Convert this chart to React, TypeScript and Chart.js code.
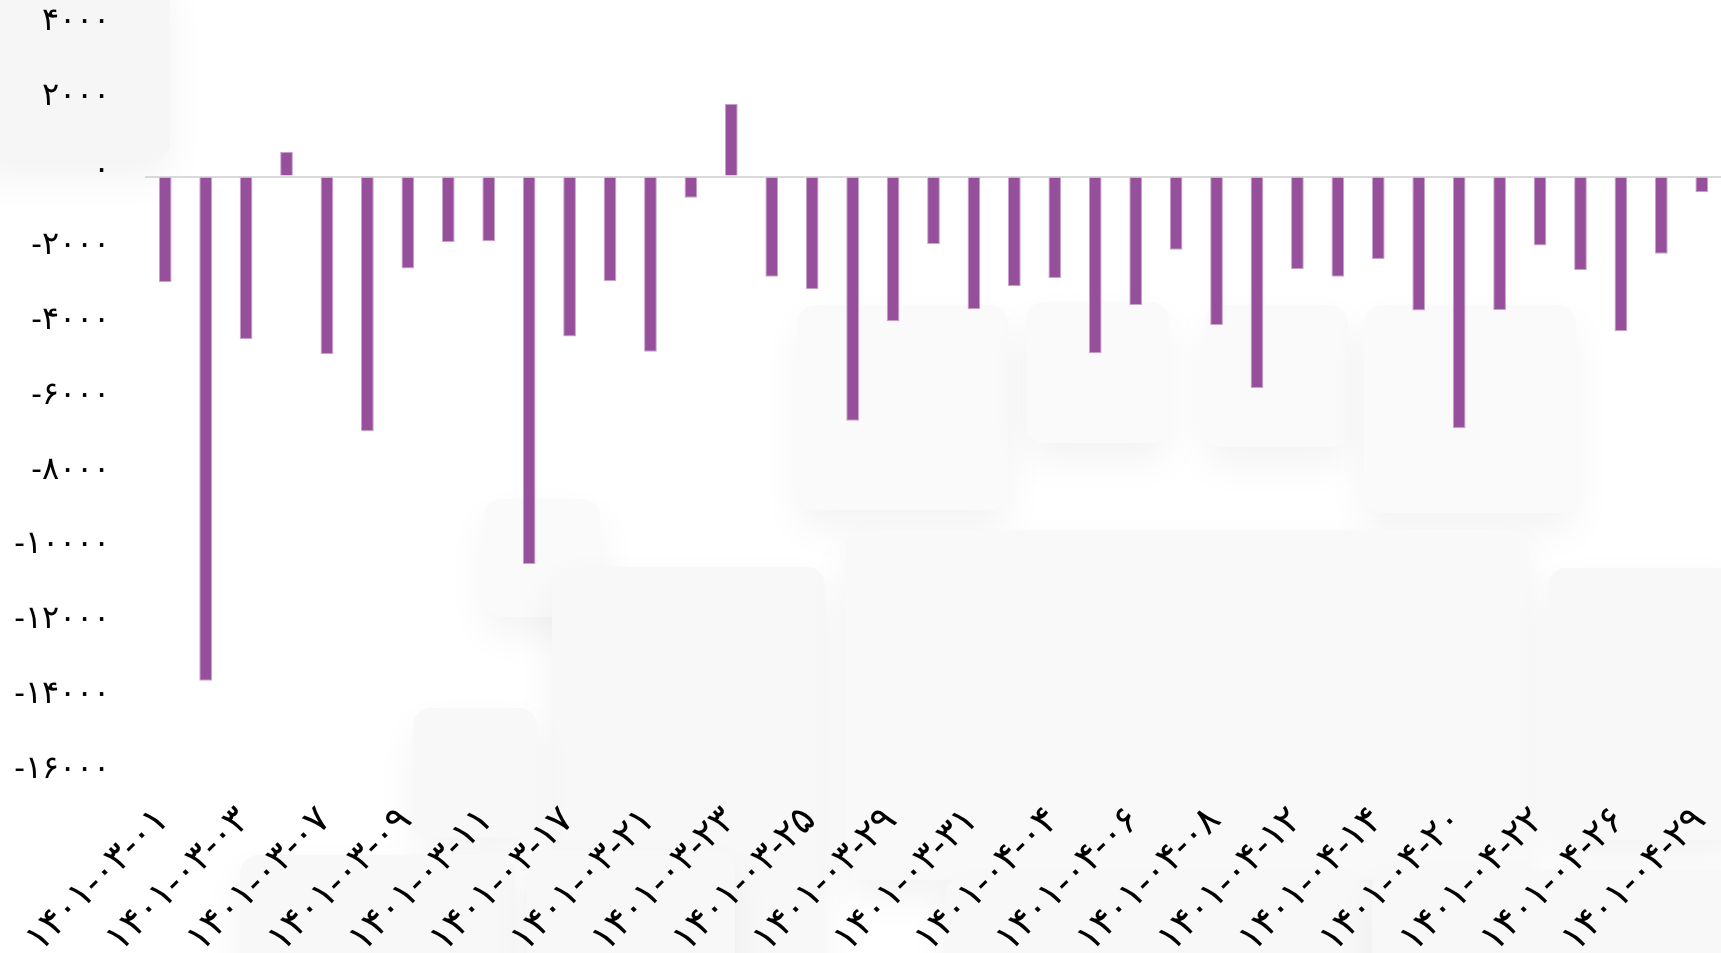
import React, { useEffect, useRef } from "react";
import { Chart, registerables } from "chart.js";

Chart.register(...registerables);

const DATES: string[] = [
  "۱۴۰۱-۰۳-۰۱", "۱۴۰۱-۰۳-۰۲", "۱۴۰۱-۰۳-۰۳", "۱۴۰۱-۰۳-۰۴", "۱۴۰۱-۰۳-۰۷",
  "۱۴۰۱-۰۳-۰۸", "۱۴۰۱-۰۳-۰۹", "۱۴۰۱-۰۳-۱۰", "۱۴۰۱-۰۳-۱۱", "۱۴۰۱-۰۳-۱۶",
  "۱۴۰۱-۰۳-۱۷", "۱۴۰۱-۰۳-۱۸", "۱۴۰۱-۰۳-۲۱", "۱۴۰۱-۰۳-۲۲", "۱۴۰۱-۰۳-۲۳",
  "۱۴۰۱-۰۳-۲۴", "۱۴۰۱-۰۳-۲۵", "۱۴۰۱-۰۳-۲۸", "۱۴۰۱-۰۳-۲۹", "۱۴۰۱-۰۳-۳۰",
  "۱۴۰۱-۰۳-۳۱", "۱۴۰۱-۰۴-۰۱", "۱۴۰۱-۰۴-۰۴", "۱۴۰۱-۰۴-۰۵", "۱۴۰۱-۰۴-۰۶",
  "۱۴۰۱-۰۴-۰۷", "۱۴۰۱-۰۴-۰۸", "۱۴۰۱-۰۴-۱۱", "۱۴۰۱-۰۴-۱۲", "۱۴۰۱-۰۴-۱۳",
  "۱۴۰۱-۰۴-۱۴", "۱۴۰۱-۰۴-۱۵", "۱۴۰۱-۰۴-۲۰", "۱۴۰۱-۰۴-۲۱", "۱۴۰۱-۰۴-۲۲",
  "۱۴۰۱-۰۴-۲۵", "۱۴۰۱-۰۴-۲۶", "۱۴۰۱-۰۴-۲۸", "۱۴۰۱-۰۴-۲۹",
];

const NET_FLOW: number[] = [
  -2820, -13480, -4340, 665, -4740, -6810, -2455, -1750, -1730, -10360,
  -4275, -2790, -4685, -565, 1945, -2680, -3015, -6525, -3865, -1800,
  -3550, -2935, -2710, -4725, -3435, -1955, -3970, -5655, -2475, -2680,
  -2200, -3580, -6730, -3570, -1840, -2495, -4130, -2065, -420,
];

const Y_MIN = -16000;
const Y_MAX = 4000;
const Y_STEP = 2000;

const FA_DIGITS = "۰۱۲۳۴۵۶۷۸۹";
const toFa = (s: string) => s.replace(/[0-9]/g, (d) => FA_DIGITS[Number(d)]);

const Y_FONT = { size: 32 };
const X_FONT = { size: 38 };

const panel = (left: number, top: number, width: number, height: number, bg = "#f9f9f9") => ({
  position: "absolute" as const,
  left,
  top,
  width,
  height,
  background: bg,
  borderRadius: 18,
  boxShadow: "0 18px 40px rgba(0,0,0,0.05)",
});

export default function App() {
  const ref = useRef<HTMLCanvasElement>(null);

  useEffect(() => {
    const chart = new Chart(ref.current as HTMLCanvasElement, {
      type: "bar",
      data: {
        labels: DATES,
        datasets: [
          {
            data: NET_FLOW,
            backgroundColor: "#954f9b",
            borderColor: "#c8a3cb",
            borderWidth: 1,
            barPercentage: 0.35,
            categoryPercentage: 0.9,
          },
        ],
      },
      options: {
        animation: false,
        responsive: true,
        maintainAspectRatio: false,
        layout: { padding: { top: 27, left: 0, right: 0, bottom: 0 } },
        plugins: {
          legend: { display: false },
          tooltip: { enabled: false },
        },
        scales: {
          x: {
            grid: { display: false, drawTicks: false },
            border: { display: false },
            ticks: {
              autoSkip: false,
              minRotation: 45,
              maxRotation: 45,
              padding: 23,
              labelOffset: -2,
              color: "#000",
              font: X_FONT,
              callback: (_v: any, i: number) => (i % 2 === 0 ? DATES[i] : ""),
            },
            afterFit: (s: any) => {
              s.height = 178;
              s.paddingLeft = 0;
              s.paddingRight = 0;
            },
          },
          y: {
            min: Y_MIN,
            max: Y_MAX,
            ticks: {
              stepSize: Y_STEP,
              padding: 35,
              labelOffset: -6,
              color: "#000",
              font: Y_FONT,
              callback: (v: any) => toFa(String(v)),
            },
            grid: {
              drawTicks: false,
              lineWidth: 2,
              color: (ctx: any) =>
                ctx.tick && ctx.tick.value === 0 ? "#d9d9d9" : "rgba(0,0,0,0)",
            },
            border: { display: false },
            afterFit: (s: any) => {
              s.width = 145;
              s.paddingTop = 0;
              s.paddingBottom = 0;
            },
          },
        },
      },
    } as any);
    return () => chart.destroy();
  }, []);

  return (
    <div
      style={{
        position: "fixed",
        left: 0,
        top: 0,
        width: 1722,
        height: 953,
        overflow: "hidden",
        background: "#ffffff",
      }}
    >
      <div style={panel(-30, -30, 200, 190, "#f6f6f6")} />
      <div style={panel(798, 305, 210, 205, "#fafafa")} />
      <div style={panel(1026, 302, 143, 141, "#fafafa")} />
      <div style={panel(1204, 305, 144, 142, "#fafafa")} />
      <div style={panel(1364, 305, 212, 208, "#fafafa")} />
      <div style={panel(484, 499, 116, 118, "#fafafa")} />
      <div style={panel(552, 567, 273, 420, "#f8f8f8")} />
      <div style={panel(413, 708, 124, 130, "#f8f8f8")} />
      <div style={panel(845, 530, 684, 350, "#f9f9f9")} />
      <div style={panel(1548, 568, 200, 272, "#f8f8f8")} />
      <div style={panel(240, 855, 275, 140, "#f8f8f8")} />
      <div style={panel(527, 850, 208, 140, "#f8f8f8")} />
      <div style={panel(945, 878, 427, 120, "#f8f8f8")} />
      <div style={panel(1372, 870, 380, 120, "#f8f8f8")} />
      <div style={{ position: "absolute", left: 0, top: 0, width: 1722, height: 953 }}>
        <canvas ref={ref} />
      </div>
    </div>
  );
}
